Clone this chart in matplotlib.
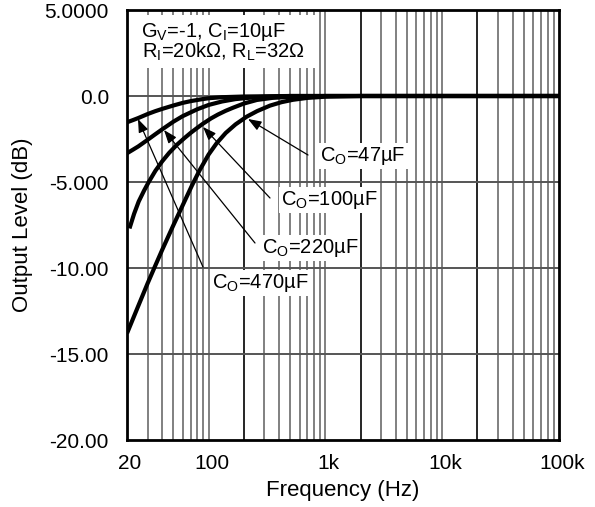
import math
import matplotlib
matplotlib.use("Agg")
import matplotlib.pyplot as plt
from matplotlib.ticker import FixedLocator, FixedFormatter, NullLocator
from matplotlib.patches import Rectangle
from matplotlib.transforms import ScaledTranslation

plt.rcParams['font.family'] = ['Liberation Sans', 'DejaVu Sans']

# Curves (frequency Hz, output level dB)
f_470 = [20, 22.5, 25, 30, 35, 40, 50, 60, 70, 85, 100, 130, 200, 500, 100000]
db_470 = [-1.53, -1.4, -1.28, -1.05, -0.88, -0.75, -0.55, -0.4, -0.3, -0.2, -0.13, -0.07, -0.03, 0.0, 0.0]

f_220 = [20, 22.5, 25, 30, 35, 40, 50, 60, 80, 100, 130, 170, 250, 500, 100000]
db_220 = [-3.33, -3.12, -2.93, -2.55, -2.22, -1.94, -1.49, -1.17, -0.77, -0.52, -0.32, -0.18, -0.07, 0.0, 0.0]

f_100 = [21, 23, 25.2, 28, 30.7, 35, 40, 46, 53.6, 62, 70, 80, 89, 105, 120, 140, 162, 200, 259, 350, 500, 1000, 100000]
db_100 = [-7.7, -6.85, -6.13, -5.5, -5.0, -4.35, -3.8, -3.3, -2.83, -2.45, -2.15, -1.85, -1.62, -1.3, -1.08, -0.86, -0.68, -0.44, -0.23, -0.11, -0.05, 0.0, 0.0]

f_47 = [20, 25, 30, 35, 40, 50, 60, 72, 84, 100, 117, 140, 170, 212, 260, 335, 420, 527, 700, 1000, 2000, 100000]
db_47 = [-13.8, -12.2, -10.9, -9.85, -8.95, -7.5, -6.35, -5.2, -4.3, -3.4, -2.75, -2.15, -1.65, -1.2, -0.88, -0.56, -0.36, -0.22, -0.11, -0.04, 0.0, 0.0]

x_ticks = [20, 100, 1000, 10000, 100000]
x_tick_labels = ['20', '100', '1k', '10k', '100k']
y_ticks = [5, 0, -5, -10, -15, -20]
y_tick_labels = ['5.0000', '0.0', '-5.000', '-10.00', '-15.00', '-20.00']

labels = ['C$_\\mathregular{O}$=47µF', 'C$_\\mathregular{O}$=100µF',
          'C$_\\mathregular{O}$=220µF', 'C$_\\mathregular{O}$=470µF']

PX0, PX1, PY0, PY1 = 127, 559, 440, 10

fig = plt.figure(figsize=(5.95, 5.07), dpi=100)
ax = fig.add_axes([PX0/595, 1-PY0/507, (PX1-PX0)/595, (PY0-PY1)/507])
ax.set_xscale('log')
ax.set_xlim(20, 100000)
ax.set_ylim(-20, 5)


def px2data(px, py):
    lf = math.log10(20) + (px - PX0) / (PX1 - PX0) * (math.log10(100000) - math.log10(20))
    db = -20 + (PY0 - py) / (PY0 - PY1) * 25
    return 10 ** lf, db


# grid
minor = []
for dec in [10, 100, 1000, 10000]:
    for m in range(1, 10):
        v = dec * m
        if 20 < v < 100000:
            minor.append(v)
for v in minor:
    if v in (200, 2000, 20000):
        ax.axvline(v, color='black', lw=1.2, zorder=1)
    else:
        ax.axvline(v, color='#808080', lw=1.4, zorder=1)
for v in [0, -5, -10, -15]:
    ax.axhline(v, color='#555555', lw=1.4, zorder=1)

for f, d in [(f_470, db_470), (f_220, db_220), (f_100, db_100), (f_47, db_47)]:
    ax.plot(f, d, color='black', lw=3, zorder=3, solid_capstyle='butt',
            solid_joinstyle='round')

ax.xaxis.set_major_locator(FixedLocator(x_ticks))
ax.xaxis.set_major_formatter(FixedFormatter(x_tick_labels))
ax.xaxis.set_minor_locator(NullLocator())
ax.yaxis.set_major_locator(FixedLocator(y_ticks))
ax.yaxis.set_major_formatter(FixedFormatter(y_tick_labels))
ax.tick_params(axis='both', length=0, labelsize=15)
ax.tick_params(axis='x', pad=10)
ax.tick_params(axis='y', pad=13)
off = ScaledTranslation(3/100, 0, fig.dpi_scale_trans)
for lab in ax.get_xticklabels():
    lab.set_transform(lab.get_transform() + off)
for s in ax.spines.values():
    s.set_linewidth(2)
    s.set_zorder(5)

ax.set_xlabel('Frequency (Hz)', fontsize=16, labelpad=5)
ax.set_ylabel('Output Level (dB)', fontsize=16, labelpad=8)

# header text box
(bx0, by0), (bx1, by1) = px2data(135, 68), px2data(318, 15)
ax.add_patch(Rectangle((bx0, by0), bx1 - bx0, by1 - by0, facecolor='white',
                       edgecolor='none', zorder=6))
ax.text(*px2data(141, 37), 'G$_\\mathregular{V}$=-1, C$_\\mathregular{I}$=10µF',
        ha='left', va='baseline', fontsize=14.5, zorder=7)
ax.text(*px2data(142, 58), 'R$_\\mathregular{I}$=20kΩ, R$_\\mathregular{L}$=32Ω',
        ha='left', va='baseline', fontsize=14.5, zorder=7)

# annotations
tips = [(248, 119), (203, 127), (164, 130), (138, 119)]
tails = [(308, 155), (270, 198), (255, 243), (203, 267)]
text_pos = [(363, 156), (329, 200), (310, 248), (260, 283)]
for lab, tip, tail, tp in zip(labels, tips, tails, text_pos):
    ax.annotate('', xy=px2data(*tip), xytext=px2data(*tail),
                arrowprops=dict(arrowstyle='-|>,head_length=0.8,head_width=0.3',
                                color='black', lw=0.9, shrinkA=0, shrinkB=0),
                zorder=4)
    ax.text(*px2data(*tp), lab, ha='center', va='center', fontsize=14.5,
            bbox=dict(facecolor='white', edgecolor='none', pad=1.5), zorder=6)

fig.savefig('out.png', dpi=100)
